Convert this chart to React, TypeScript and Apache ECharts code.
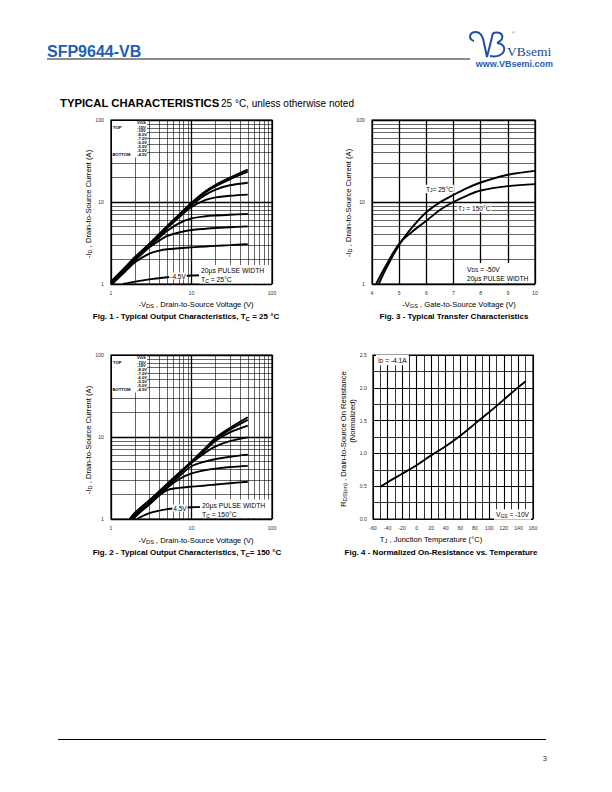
import React, { useEffect, useRef } from "react";
import * as echarts from "echarts";

const FONT = "'Liberation Sans', Arial, Helvetica, sans-serif";
const SERIF = "'Liberation Serif', 'DejaVu Serif', serif";

// ---------- tick labels ----------
const logTicks = [1, 10, 100];
const fig3XTicks = [4, 5, 6, 7, 8, 9, 10];
const fig4XTicks = [-60, -40, -20, 0, 20, 40, 60, 80, 100, 120, 140, 160];
const fig4YTicks = [0, 0.5, 1.0, 1.5, 2.0, 2.5];
const vgsLevels = ["-15V", "-10V", "-8.0V", "-7.0V", "-6.0V", "-5.5V", "-5.0V", "-4.5V"];

// ---------- Fig. 1 : output characteristics, TC = 25 °C ----------
const fig1Vds = [1, 1.5, 2, 3, 4, 5, 7, 10, 15, 20, 30, 50];
const fig1Id15V = [1.07, 1.6, 2.15, 3.1, 4.1, 5.1, 7.0, 9.8, 13.6, 16.2, 19.8, 24.8];
const fig1Id10V = [1.05, 1.57, 2.1, 3.05, 4.0, 5.0, 6.9, 9.6, 13.2, 15.6, 18.9, 23.4];
const fig1Id8V = [1.03, 1.55, 2.07, 3.0, 3.95, 4.9, 6.8, 9.2, 12.3, 14.2, 16.0, 17.2];
const fig1Id7V = [1.02, 1.53, 2.05, 2.95, 3.9, 4.8, 6.5, 8.7, 10.6, 11.4, 11.9, 12.3];
const fig1Id6V = [1.0, 1.5, 2.0, 2.9, 3.7, 4.45, 5.5, 6.3, 6.7, 6.85, 7.0, 7.15];
const fig1Id55V = [0.99, 1.48, 1.95, 2.8, 3.4, 3.85, 4.25, 4.55, 4.72, 4.82, 4.92, 5.05];
const fig1Id5V = [0.97, 1.42, 1.85, 2.35, 2.55, 2.65, 2.73, 2.8, 2.87, 2.92, 2.98, 3.06];
const fig1Vds45 = [1.4, 2, 3, 5, 7, 10, 20, 50];
const fig1Id45V = [1.0, 1.07, 1.14, 1.21, 1.24, 1.27, 1.3, 1.35];

// ---------- Fig. 2 : output characteristics, TC = 150 °C ----------
const fig2Vds = [1.7, 2, 3, 5, 7, 10, 15, 20, 30, 50];
const fig2Id15V = [1.0, 1.2, 1.7, 2.7, 3.65, 5.05, 7.4, 9.8, 12.9, 17.4];
const fig2Id10V = [0.98, 1.18, 1.66, 2.63, 3.58, 4.95, 7.15, 9.4, 12.3, 16.2];
const fig2Id8V = [0.96, 1.16, 1.64, 2.62, 3.56, 4.9, 7.0, 9.0, 11.4, 13.8];
const fig2Id7V = [0.95, 1.14, 1.62, 2.6, 3.55, 4.85, 6.5, 7.7, 8.9, 9.9];
const fig2Id6V = [0.93, 1.1, 1.55, 2.5, 3.3, 4.4, 5.05, 5.4, 5.75, 6.1];
const fig2Id55V = [0.92, 1.08, 1.5, 2.4, 3.05, 3.6, 3.95, 4.12, 4.3, 4.45];
const fig2Id5V = [0.9, 1.06, 1.55, 2.25, 2.4, 2.48, 2.56, 2.63, 2.73, 2.85];
const fig2Vds45 = [2.1, 3, 5, 7, 10, 20, 50];
const fig2Id45V = [1.0, 1.18, 1.32, 1.36, 1.39, 1.42, 1.45];

// ---------- Fig. 3 : transfer characteristics ----------
const fig3Vgs25 = [4.25, 4.5, 5, 5.5, 6, 6.5, 7, 7.5, 8, 9, 10];
const fig3Id25 = [1.0, 1.5, 3.0, 5.0, 7.5, 9.9, 12.2, 14.8, 17.3, 21.5, 24.0];
const fig3Vgs150 = [4.15, 4.5, 5, 5.5, 6, 6.5, 7, 7.5, 8, 9, 10];
const fig3Id150 = [1.0, 1.65, 3.1, 4.4, 5.9, 8.0, 10.0, 12.0, 13.8, 15.6, 16.5];

// ---------- Fig. 4 : normalized on-resistance ----------
const fig4Temp = [-50, -40, -20, 0, 20, 40, 60, 80, 100, 120, 140, 150];
const fig4Rds = [0.49, 0.56, 0.69, 0.82, 0.97, 1.11, 1.27, 1.45, 1.63, 1.82, 2.01, 2.1];

const LOGO_D =
  "M8,11 C2,9 3,2 10,2 C15,2 17,7 18,13 L21,27 L27,3 M27,3 C37,1 40,8 31,13 M31,13 C43,14 40,29 24,26";
echarts.graphic.registerShape("vbLogo", echarts.graphic.extendPath(LOGO_D, {}));

const zip = (xs: number[], ys: number[]) => xs.map((x, i) => [x, ys[i]]);
const logMinor = [1, 10].flatMap((d) => [2, 3, 4, 5, 6, 7, 8, 9].map((k) => k * d));
// minor grid lines of fig. 4 sit halfway between its labelled ticks
const fig4XMinor = fig4XTicks.slice(0, -1).map((v) => v + 10);
const fig4YMinor = fig4YTicks.slice(0, -1).map((v) => v + 0.25);

function rt(parts: Array<[string, boolean]>) {
  return parts.map(([t, s]) => `{${s ? "s" : "n"}|${t}}`).join("");
}
function richStyles(size: number, weight: string = "normal", color = "#000") {
  return {
    n: { fontSize: size, fontFamily: FONT, fontWeight: weight, fill: color, lineHeight: size * 1.3 },
    s: {
      fontSize: size * 0.75,
      fontFamily: FONT,
      fontWeight: weight,
      fill: color,
      lineHeight: size * 0.9,
      verticalAlign: "bottom",
    },
  };
}

function T(x: number, y: number, text: string, o: any = {}) {
  const style: any = {
    text,
    fontSize: o.size ?? 7,
    fontFamily: o.font ?? FONT,
    fontWeight: o.weight ?? "normal",
    fill: o.color ?? "#000",
    align: o.align ?? "left",
    verticalAlign: "middle",
    textAlign: o.align ?? "left",
    textVerticalAlign: "middle",
  };
  if (o.rich) style.rich = o.rich;
  if (o.bg) {
    style.backgroundColor = o.bg;
    style.padding = o.pad ?? [0, 1];
  }
  return { type: "text", x, y, z: o.z ?? 60, rotation: o.rot ?? 0, silent: true, style };
}
function R(x: number, y: number, w: number, h: number) {
  return { type: "rect", z: 50, silent: true, shape: { x, y, width: w, height: h }, style: { fill: "#fff" } };
}
function L(x1: number, y1: number, x2: number, y2: number, color: string, w: number) {
  return { type: "line", z: 60, silent: true, shape: { x1, y1, x2, y2 }, style: { stroke: color, lineWidth: w } };
}

function legendBlock(top: number) {
  const sm = { size: 4.2, weight: "bold" };
  const els: any[] = [R(112, top + 1, 35, 36.5)];
  els.push(T(137, top + 2.7, "VGS", sm));
  vgsLevels.forEach((s, i) => els.push(T(137, top + 7 + i * 3.92, s, sm)));
  els.push(T(113, top + 7, "TOP", sm));
  els.push(T(112.5, top + 7 + 7 * 3.92, "BOTTOM", sm));
  return els;
}

function curve(data: number[][], gi: number) {
  return {
    type: "line",
    xAxisIndex: gi,
    yAxisIndex: gi,
    data,
    showSymbol: false,
    symbol: "none",
    smooth: 0.35,
    silent: true,
    z: 10,
    clip: true,
    lineStyle: { color: "#000", width: 1.9 },
  };
}

function gridHelper(gi: number, anchor: number[], xs: number[], ys: number[], width = 0.6) {
  return {
    type: "line",
    xAxisIndex: gi,
    yAxisIndex: gi,
    data: [anchor],
    symbol: "none",
    silent: true,
    z: 1,
    lineStyle: { opacity: 0 },
    markLine: {
      silent: true,
      z: 1,
      symbol: ["none", "none"],
      label: { show: false },
      lineStyle: { color: "#000", width, type: "solid" },
      emphasis: { disabled: true },
      data: [...xs.map((v) => ({ xAxis: v })), ...ys.map((v) => ({ yAxis: v }))],
    },
  };
}

const axisLabelBase = { fontSize: 5.2, color: "#333", fontFamily: FONT };

function logAxis(gi: number, isY: boolean) {
  return {
    type: "log",
    logBase: 10,
    gridIndex: gi,
    min: logTicks[0],
    max: logTicks[logTicks.length - 1],
    axisLine: { show: false },
    axisTick: { show: false },
    splitLine: { show: true, lineStyle: { color: "#000", width: 1.3 } },
    axisLabel: { ...axisLabelBase, margin: isY ? 7 : 6 },
  };
}

function buildOption() {
  const grids = [
    { left: 111, top: 120, width: 161, height: 164 },
    { left: 372, top: 120, width: 163, height: 164 },
    { left: 111, top: 355, width: 161, height: 164 },
    { left: 373, top: 355, width: 160, height: 164 },
  ].map((g) => ({ ...g, show: true, borderColor: "#000", borderWidth: 1.2, containLabel: false }));

  const xAxis: any[] = [
    logAxis(0, false),
    {
      type: "value",
      gridIndex: 1,
      min: fig3XTicks[0],
      max: fig3XTicks[fig3XTicks.length - 1],
      interval: 1,
      axisLine: { show: false },
      axisTick: { show: false },
      splitLine: { show: true, lineStyle: { color: "#000", width: 1.3 } },
      axisLabel: { ...axisLabelBase, margin: 6 },
    },
    logAxis(2, false),
    {
      type: "value",
      gridIndex: 3,
      min: fig4XTicks[0],
      max: fig4XTicks[fig4XTicks.length - 1],
      interval: 20,
      axisLine: { show: false },
      axisTick: { show: false },
      splitLine: { show: true, lineStyle: { color: "#000", width: 1.1 } },
      axisLabel: { ...axisLabelBase, margin: 6 },
    },
  ];
  const yAxis: any[] = [
    logAxis(0, true),
    logAxis(1, true),
    logAxis(2, true),
    {
      type: "value",
      gridIndex: 3,
      min: fig4YTicks[0],
      max: fig4YTicks[fig4YTicks.length - 1],
      interval: 0.5,
      axisLine: { show: false },
      axisTick: { show: false },
      splitLine: { show: true, lineStyle: { color: "#000", width: 1.1 } },
      axisLabel: { ...axisLabelBase, margin: 6, formatter: (v: number) => v.toFixed(1) },
    },
  ];

  const series: any[] = [
    gridHelper(0, [1, 1], logMinor, logMinor),
    gridHelper(1, [4, 1], [], logMinor),
    gridHelper(2, [1, 1], logMinor, logMinor),
    gridHelper(3, [-60, 0], fig4XMinor, fig4YMinor, 0.8),
    ...[fig1Id15V, fig1Id10V, fig1Id8V, fig1Id7V, fig1Id6V, fig1Id55V, fig1Id5V].map((ys) =>
      curve(zip(fig1Vds, ys), 0)
    ),
    curve(zip(fig1Vds45, fig1Id45V), 0),
    curve(zip(fig3Vgs25, fig3Id25), 1),
    curve(zip(fig3Vgs150, fig3Id150), 1),
    ...[fig2Id15V, fig2Id10V, fig2Id8V, fig2Id7V, fig2Id6V, fig2Id55V, fig2Id5V].map((ys) =>
      curve(zip(fig2Vds, ys), 2)
    ),
    curve(zip(fig2Vds45, fig2Id45V), 2),
    curve(zip(fig4Temp, fig4Rds), 3),
  ];

  const rAx = richStyles(7.6);
  const r65 = richStyles(6.6);
  const rCap = richStyles(8, "bold");
  const rot = Math.PI / 2;

  const elements: any[] = [
    // header
    T(47, 51, "SFP9644-VB", { size: 16, weight: "bold", color: "#1d5fb6" }),
    L(47, 59, 470, 59, "#8c8c8c", 2),
    {
      type: "vbLogo",
      x: 466,
      y: 30,
      scaleX: 1,
      scaleY: 1,
      z: 60,
      silent: true,
      style: { fill: "none", stroke: "#1f4ea3", lineWidth: 2 },
    },
    T(512, 32, "®", { size: 4, color: "#666" }),
    T(507, 51, "VBsemi", { size: 13.5, font: SERIF, color: "#23489a" }),
    T(553, 64, "www.VBsemi.com", { size: 9, weight: "bold", color: "#1d5fb6", align: "right" }),
    T(60, 103, "TYPICAL CHARACTERISTICS", { size: 11.3, weight: "bold" }),
    T(221, 103, "25 °C, unless otherwise noted", { size: 10 }),

    // Fig 1
    ...legendBlock(120),
    R(199, 265, 72, 18.5),
    T(201, 270.5, "20μs PULSE WIDTH", { size: 6.8 }),
    T(201, 279.5, rt([["T", false], ["C", true], [" = 25°C", false]]), { rich: richStyles(6.8) }),
    T(178, 276, "-4.5V", { size: 6.5, align: "center", bg: "#fff" }),
    T(196, 304, rt([["-V", false], ["DS", true], [" , Drain-to-Source Voltage (V)", false]]), {
      rich: rAx,
      align: "center",
    }),
    T(88.5, 204, rt([["-I", false], ["D", true], [" , Drain-to-Source Current (A)", false]]), {
      rich: rAx,
      align: "center",
      rot,
    }),
    T(186, 316.5, rt([["Fig. 1 - Typical Output Characteristics, T", false], ["C", true], [" = 25 °C", false]]), {
      rich: rCap,
      align: "center",
    }),

    // Fig 3
    T(425, 189, rt([["T", false], ["J", true], ["= 25°C", false]]), { rich: r65, bg: "#fff" }),
    T(457, 208, rt([["T", false], ["J", true], [" = 150°C", false]]), { rich: r65, bg: "#fff" }),
    R(465, 263, 69, 20),
    T(467, 269, rt([["V", false], ["DS", true], [" = -50V", false]]), { rich: r65 }),
    T(467, 278, "20μs PULSE WIDTH", { size: 6.6 }),
    T(459, 304, rt([["-V", false], ["GS", true], [" , Gate-to-Source Voltage (V)", false]]), {
      rich: rAx,
      align: "center",
    }),
    T(348.5, 203, rt([["-I", false], ["D", true], [" , Drain-to-Source Current (A)", false]]), {
      rich: rAx,
      align: "center",
      rot,
    }),
    T(454, 316.5, "Fig. 3 - Typical Transfer Characteristics", { size: 8, weight: "bold", align: "center" }),

    // Fig 2
    ...legendBlock(355),
    R(200, 499.5, 71, 18.5),
    T(202, 505, "20μs PULSE WIDTH", { size: 6.8 }),
    T(202, 514, rt([["T", false], ["C", true], [" = 150°C", false]]), { rich: richStyles(6.8) }),
    T(180, 508, "4.5V", { size: 6.5, align: "center", bg: "#fff" }),
    T(196, 540, rt([["-V", false], ["DS", true], [" , Drain-to-Source Voltage (V)", false]]), {
      rich: rAx,
      align: "center",
    }),
    T(88.5, 440, rt([["-I", false], ["D", true], [" , Drain-to-Source Current (A)", false]]), {
      rich: rAx,
      align: "center",
      rot,
    }),
    T(187, 552.5, rt([["Fig. 2 - Typical Output Characteristics, T", false], ["C", true], ["= 150 °C", false]]), {
      rich: rCap,
      align: "center",
    }),

    // Fig 4
    T(376, 360, rt([["I", false], ["D", true], [" = -4.1A", false]]), { rich: r65, bg: "#fff", pad: [1, 2] }),
    T(531, 514.5, rt([["V", false], ["GS", true], [" = -10V", false]]), {
      rich: r65,
      align: "right",
      bg: "#fff",
      pad: [1, 2],
    }),
    T(431, 539.5, rt([["T", false], ["J", true], [" , Junction Temperature (°C)", false]]), {
      rich: rAx,
      align: "center",
    }),
    T(343, 439, rt([["R", false], ["DS(on)", true], [" , Drain-to-Source On Resistance", false]]), {
      rich: rAx,
      align: "center",
      rot,
    }),
    T(352.5, 421, "(Normalized)", { size: 7.6, align: "center", rot }),
    T(441, 552.5, "Fig. 4 - Normalized On-Resistance vs. Temperature", {
      size: 8,
      weight: "bold",
      align: "center",
    }),

    // footer
    L(58, 739.5, 546, 739.5, "#000", 1),
    T(547, 758, "3", { size: 7.5, align: "right", color: "#333" }),
  ];

  return {
    animation: false,
    backgroundColor: "#fff",
    grid: grids,
    xAxis,
    yAxis,
    series,
    graphic: { elements },
  };
}

export default function App() {
  const ref = useRef<HTMLDivElement>(null);
  useEffect(() => {
    if (!ref.current) return;
    const chart = echarts.init(ref.current, null, { renderer: "svg" });
    chart.setOption(buildOption() as any);
    return () => chart.dispose();
  }, []);
  return (
    <div
      ref={ref}
      style={{ position: "absolute", left: 0, top: 0, width: 612, height: 792, background: "#fff" }}
    />
  );
}
